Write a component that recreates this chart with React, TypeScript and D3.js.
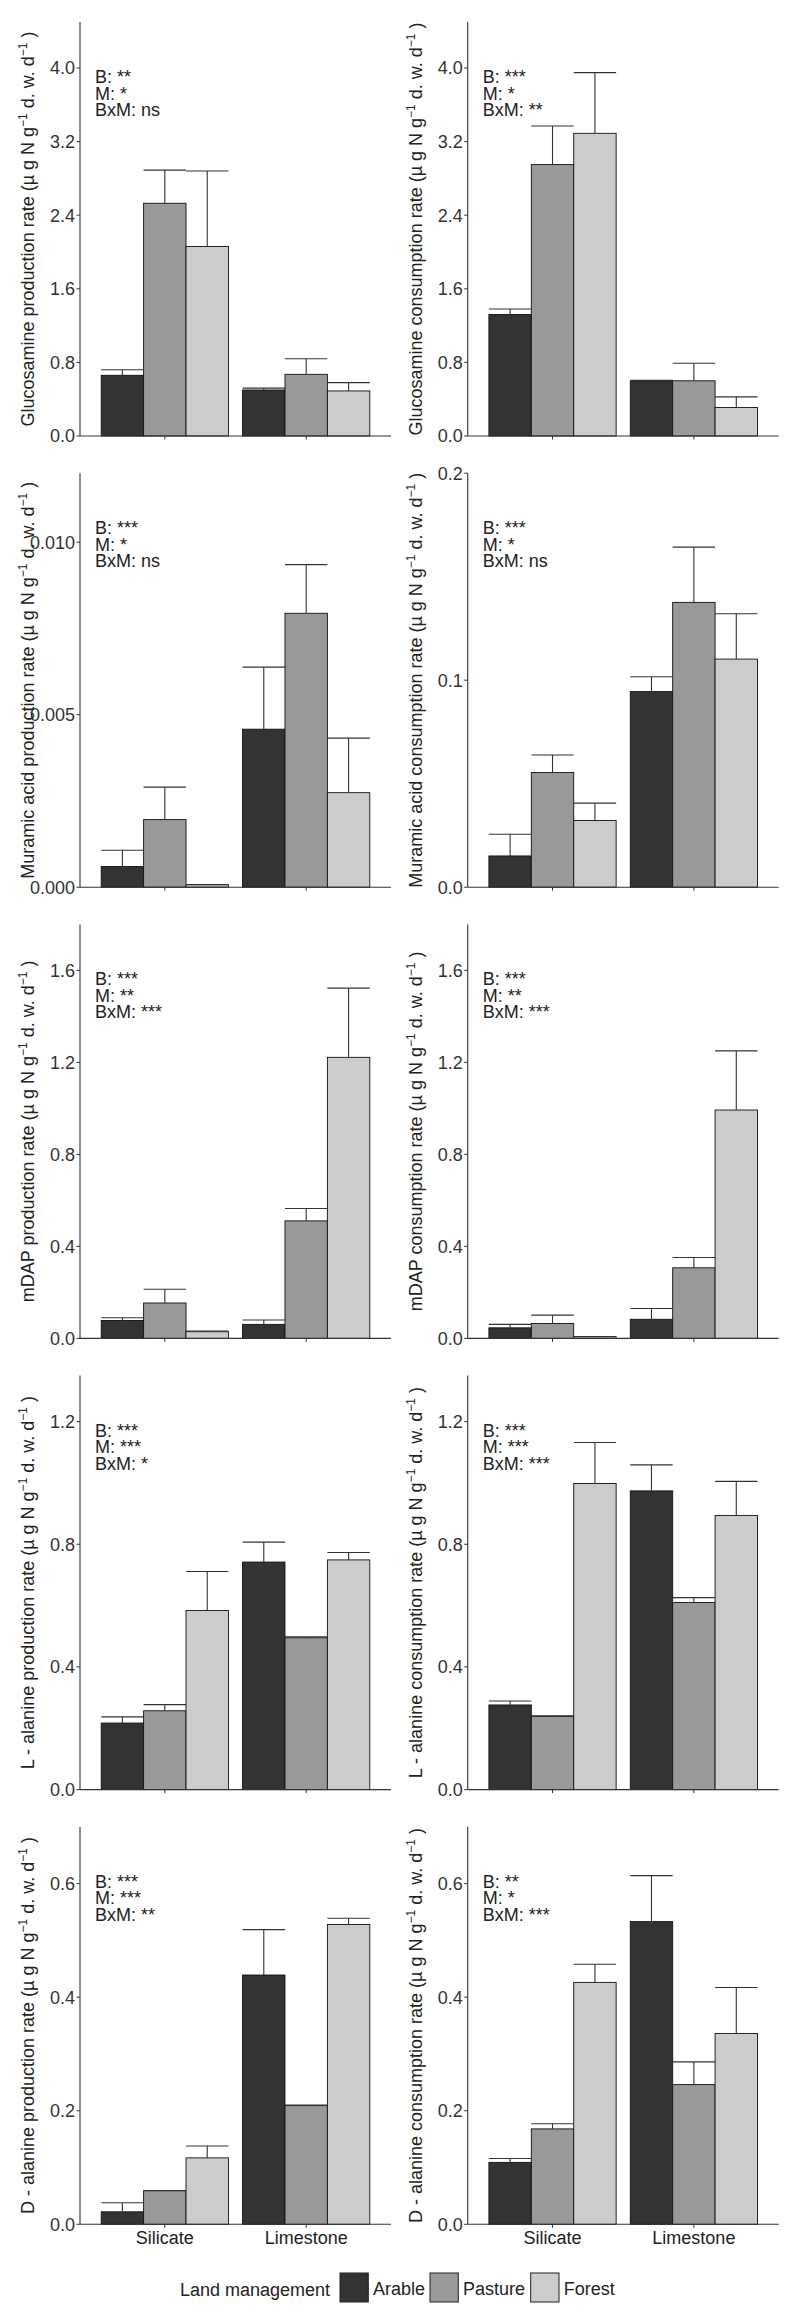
import React from "react";
import * as d3 from "d3";

// ---------- data ----------
const bedrocks = ["Silicate", "Limestone"];
const managements = ["Arable", "Pasture", "Forest"];
const fillColors = ["#333333", "#999999", "#cccccc"];

// values ordered: Silicate (Arable, Pasture, Forest), Limestone (Arable, Pasture, Forest)
const glcProdMean = [0.66, 2.53, 2.06, 0.5, 0.67, 0.49];
const glcProdSe = [0.06, 0.36, 0.82, 0.02, 0.17, 0.09];
const glcConsMean = [1.32, 2.95, 3.29, 0.6, 0.6, 0.31];
const glcConsSe = [0.06, 0.42, 0.66, 0.005, 0.19, 0.115];
const murProdMean = [0.0006, 0.00196, 0.00007, 0.00458, 0.00794, 0.00274];
const murProdSe = [0.00047, 0.00094, 0.00001, 0.0018, 0.00141, 0.00158];
const murConsMean = [0.0151, 0.0554, 0.0322, 0.0945, 0.1376, 0.1102];
const murConsSe = [0.0105, 0.0085, 0.0084, 0.0072, 0.0267, 0.0219];
const dapProdMean = [0.078, 0.154, 0.029, 0.061, 0.511, 1.222];
const dapProdSe = [0.012, 0.06, 0.003, 0.019, 0.054, 0.301];
const dapConsMean = [0.046, 0.065, 0.007, 0.083, 0.307, 0.993];
const dapConsSe = [0.015, 0.036, 0.001, 0.047, 0.045, 0.257];
const lalaProdMean = [0.217, 0.257, 0.584, 0.742, 0.495, 0.749];
const lalaProdSe = [0.02, 0.02, 0.127, 0.065, 0.003, 0.024];
const lalaConsMean = [0.276, 0.239, 0.998, 0.974, 0.61, 0.894];
const lalaConsSe = [0.013, 0.002, 0.134, 0.085, 0.016, 0.111];
const dalaProdMean = [0.022, 0.059, 0.117, 0.439, 0.209, 0.528];
const dalaProdSe = [0.016, 0.0005, 0.021, 0.08, 0.001, 0.011];
const dalaConsMean = [0.109, 0.168, 0.426, 0.533, 0.246, 0.336];
const dalaConsSe = [0.007, 0.009, 0.032, 0.081, 0.04, 0.081];

const yMaxes = [4.5, 4.5, 0.012, 0.2, 1.8, 1.8, 1.35, 1.35, 0.7, 0.7];
const yTicks = [
  [0, 0.8, 1.6, 2.4, 3.2, 4.0],
  [0, 0.8, 1.6, 2.4, 3.2, 4.0],
  [0, 0.005, 0.01],
  [0, 0.1, 0.2],
  [0, 0.4, 0.8, 1.2, 1.6],
  [0, 0.4, 0.8, 1.2, 1.6],
  [0, 0.4, 0.8, 1.2],
  [0, 0.4, 0.8, 1.2],
  [0, 0.2, 0.4, 0.6],
  [0, 0.2, 0.4, 0.6],
];
const tickDecimals = [1, 1, 3, 1, 1, 1, 1, 1, 1, 1];
const titles = [
  "Glucosamine production rate",
  "Glucosamine consumption rate",
  "Muramic acid production rate",
  "Muramic acid consumption rate",
  "mDAP production rate",
  "mDAP consumption rate",
  "L - alanine production rate",
  "L - alanine consumption rate",
  "D - alanine production rate",
  "D - alanine consumption rate",
];
const sigB = ["**", "***", "***", "***", "***", "***", "***", "***", "***", "**"];
const sigM = ["*", "*", "*", "*", "**", "**", "***", "***", "***", "*"];
const sigBxM = ["ns", "**", "ns", "ns", "***", "***", "*", "***", "**", "***"];

const means = [glcProdMean, glcConsMean, murProdMean, murConsMean, dapProdMean, dapConsMean, lalaProdMean, lalaConsMean, dalaProdMean, dalaConsMean];
const ses = [glcProdSe, glcConsSe, murProdSe, murConsSe, dapProdSe, dapConsSe, lalaProdSe, lalaConsSe, dalaProdSe, dalaConsSe];

// ---------- layout ----------
const FONT = "'Liberation Sans', Arial, Helvetica, sans-serif";
const colAxisX = [80, 467.7];
const plotW = 311;
const rowTop = (r: number) => 22 + r * 451.2;
const rowBottom = (r: number) => (r === 4 ? 2224.3 : rowTop(r) + 414);
const AX = "#333333";

function Panel({ idx }: { idx: number }) {
  const row = Math.floor(idx / 2);
  const col = idx % 2;
  const x0 = colAxisX[col];
  const top = rowTop(row);
  const bottom = rowBottom(row);
  const x = d3.scaleLinear().domain([0.4, 2.6]).range([x0, x0 + plotW]);
  const dodge = d3.scaleBand().domain(managements).range([-0.45, 0.45]);
  const y = d3.scaleLinear().domain([0, yMaxes[idx]]).range([bottom, top]);
  const fmt = d3.format(`.${tickDecimals[idx]}f`);
  const m = means[idx];
  const s = ses[idx];
  const bars: any[] = [];
  bedrocks.forEach((b, bi) => {
    managements.forEach((g, gi) => {
      const k = bi * 3 + gi;
      const xl = x(bi + 1 + (dodge(g) as number));
      const xr = x(bi + 1 + (dodge(g) as number) + dodge.bandwidth());
      const yv = y(m[k]);
      const ye = y(m[k] + s[k]);
      const xc = (xl + xr) / 2;
      bars.push(
        <g key={k}>
          <rect x={xl} y={yv} width={xr - xl} height={bottom - yv} fill={fillColors[gi]} stroke="#111" strokeWidth={0.9} />
          <line x1={xc} x2={xc} y1={yv} y2={ye} stroke={AX} strokeWidth={1.1} />
          <line x1={xl} x2={xr} y1={ye} y2={ye} stroke={AX} strokeWidth={1.1} />
        </g>
      );
    });
  });
  const titleX = x0 - 46;
  const titleY = (top + bottom) / 2;
  const sup = (t: string) => (
    <tspan dy={-7} fontSize={12}>{t}</tspan>
  );
  return (
    <g fontFamily={FONT}>
      {bars}
      <line x1={x0} x2={x0} y1={top} y2={bottom} stroke={AX} strokeWidth={1.1} />
      <line x1={x0} x2={x0 + plotW} y1={bottom} y2={bottom} stroke={AX} strokeWidth={1.1} />
      {yTicks[idx].map((t) => (
        <g key={t}>
          <line x1={x0 - 3.5} x2={x0} y1={y(t)} y2={y(t)} stroke={AX} strokeWidth={1} />
          <text x={x0 - 5} y={y(t)} dy="0.36em" textAnchor="end" fontSize={18} fill="#333">
            {fmt(t)}
          </text>
        </g>
      ))}
      {bedrocks.map((b, bi) => (
        <g key={b}>
          <line x1={x(bi + 1)} x2={x(bi + 1)} y1={bottom} y2={bottom + 3.5} stroke={AX} strokeWidth={1} />
          {row === 4 && (
            <text x={x(bi + 1)} y={bottom + 20} textAnchor="middle" fontSize={18} fill="#222">
              {b}
            </text>
          )}
        </g>
      ))}
      <text transform={`translate(${titleX},${titleY}) rotate(-90)`} textAnchor="middle" fontSize={18} fill="#222">
        {titles[idx] + " (\u00b5 g N g"}
        {sup("\u22121")}
        <tspan dy={7}>{" d. w. d"}</tspan>
        {sup("\u22121")}
        <tspan dy={7}>{" )"}</tspan>
      </text>
      <g fontSize={18} fill="#222">
        <text x={x0 + 15} y={top + 61}>{"B: " + sigB[idx]}</text>
        <text x={x0 + 15} y={top + 77.5}>{"M: " + sigM[idx]}</text>
        <text x={x0 + 15} y={top + 94}>{"BxM: " + sigBxM[idx]}</text>
      </g>
    </g>
  );
}

function Legend() {
  const keyX = [340, 430, 530.7];
  return (
    <g fontFamily={FONT} fontSize={18} fill="#222">
      <text x={180} y={2296}>Land management</text>
      {managements.map((g, i) => (
        <g key={g}>
          <rect x={keyX[i]} y={2273} width={28.3} height={29} fill={fillColors[i]} stroke="#222" strokeWidth={1} />
          <text x={keyX[i] + 33} y={2295}>{g}</text>
        </g>
      ))}
    </g>
  );
}

export default function App() {
  return (
    <svg width={800} height={2324} style={{ position: "absolute", left: 0, top: 0, background: "#fff" }}>
      <rect width={800} height={2324} fill="#fff" />
      {titles.map((_, i) => (
        <Panel key={i} idx={i} />
      ))}
      <Legend />
    </svg>
  );
}
